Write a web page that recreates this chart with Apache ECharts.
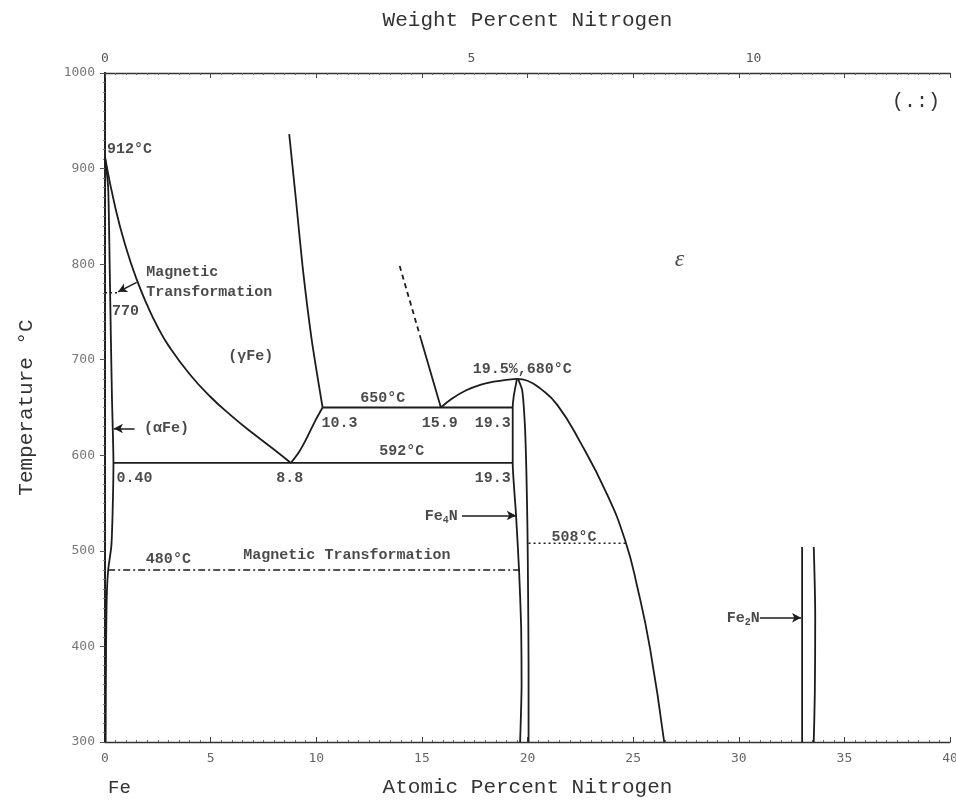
<!DOCTYPE html>
<html>
<head>
<meta charset="utf-8">
<script src="https://cdn.jsdelivr.net/npm/echarts@6/dist/echarts.min.js"></script>
<style>
html,body{margin:0;padding:0;background:#fff;}
#c{width:956px;height:803px;}
</style>
</head>
<body>
<div id="c"></div>
<script>
// ---------- data ----------
const xTickStep = 5;                 // atomic % N
const yTickStep = 100;               // °C
const weightTicks = [0, 5, 10];      // weight % N (top axis)

// alpha-Fe solvus
const alphaSolvus = [[0,912],[0.15,880],[0.22,800],[0.28,720],[0.33,660],[0.4,592],[0.36,540],[0.3,505],[0.15,480],[0.08,450],[0.05,400],[0.03,300]];
// (alpha+gamma)/gamma boundary
const gammaLower = [[0,912],[0.5,858],[1.0,817],[1.5,784],[2.0,757],[2.5,734],[3.0,715],[4.0,685],[5.0,661],[6.0,641],[7.0,623],[8.0,606],[8.8,592]];
// gamma / (gamma+gamma') boundary
const gammaGp = [[8.8,592],[9.2,604],[9.55,618],[9.95,636],[10.3,650]];
// gamma / (gamma+eps) boundary
const gammaUpper = [[10.3,650],[9.79,720],[9.36,796],[9.05,865],[8.72,936]];
// eutectoid horizontals
const iso592 = [[0.4,592],[19.3,592]];
const iso650 = [[10.3,650],[19.3,650]];
// (gamma+eps)/eps boundary
const epsDashed = [[13.95,798],[14.95,722]];
const epsSolid = [[14.95,722],[15.9,650]];
// eps dome
const epsDomeLeft = [[15.9,650],[16.4,659],[17.1,668],[17.8,674],[18.4,677],[19.0,679],[19.5,680]];
const epsRight = [[19.5,680],[20.0,678],[20.6,670],[21.4,653],[22.49,614],[23.75,560],[24.62,511],[25.2,462],[25.8,398],[26.47,300]];
// gamma' (Fe4N) field
const gpLeft = [[19.5,680],[19.35,662],[19.3,650],[19.3,592],[19.45,540],[19.6,480],[19.7,420],[19.72,360],[19.65,300]];
const gpRight = [[19.55,680],[19.75,668],[19.88,630],[19.95,580],[20.0,520],[20.03,450],[20.05,380],[20.05,300]];
// Fe2N
const fe2nLeft = [[33.0,504],[33.0,300]];
const fe2nRight = [[33.55,504],[33.62,430],[33.6,350],[33.55,300]];
// magnetic transformations
const mag770 = [[0,770],[0.65,770]];
const mag480 = [[0.15,480],[19.62,480]];
const mag508 = [[20.05,508],[24.62,508]];
// arrows [from, to]
const arrows = [
  [[1.5,781],[0.62,771]],
  [[1.4,628],[0.42,628]],
  [[16.9,537],[19.45,537]],
  [[31.0,430],[32.95,430]]
];
// annotations: text, x, y, horizontal align
const notes = [
  ['912°C', 0.1, 920, 'left'],
  ['Magnetic', 1.95, 792, 'left'],
  ['Transformation', 1.95, 771, 'left'],
  ['770', 0.33, 751, 'left'],
  ['(γFe)', 6.9, 704, 'center'],
  ['(αFe)', 1.85, 628, 'left'],
  ['0.40', 0.55, 576, 'left'],
  ['8.8', 8.75, 576, 'center'],
  ['592°C', 14.05, 604, 'center'],
  ['650°C', 13.15, 660, 'center'],
  ['10.3', 11.1, 634, 'center'],
  ['15.9', 15.85, 634, 'center'],
  ['19.3', 18.35, 634, 'center'],
  ['19.3', 18.35, 576, 'center'],
  ['19.5%,680°C', 19.75, 690, 'center'],
  ['Fe{s|4}N', 16.7, 536, 'right'],
  ['Fe{s|2}N', 31.0, 430, 'right'],
  ['480°C', 3.0, 491, 'center'],
  ['Magnetic Transformation', 11.45, 495, 'center'],
  ['508°C', 22.2, 514, 'center']
];
const epsLabel = ['ε', 27.2, 805];

// ---------- helpers ----------
const w2at = w => { const n = w/14.007, f = (100-w)/55.845; return 100*n/(n+f); };
const ink = '#1c1c1c';
const labelFont = '"Liberation Mono", "DejaVu Sans Mono", monospace';

function line(data, opts) {
  opts = opts || {};
  return {
    type: 'line', data: data, showSymbol: false, symbol: 'none',
    smooth: opts.smooth || false, clip: false, silent: true,
    lineStyle: { color: ink, width: opts.width || 1.8, type: opts.type || 'solid' },
    z: 3
  };
}

const series = [
  line(alphaSolvus, {smooth: 0.2}),
  line(gammaLower, {smooth: 0.5}),
  line(gammaGp, {smooth: 0.3}),
  line(gammaUpper, {smooth: 0.2}),
  line(iso592, {}),
  line(iso650, {}),
  line(epsDashed, {type: [5, 4]}),
  line(epsSolid, {}),
  line(epsDomeLeft, {smooth: 0.4}),
  line(epsRight, {smooth: 0.5}),
  line(gpLeft, {smooth: 0.2}),
  line(gpRight, {smooth: 0.2}),
  line(fe2nLeft, {}),
  line(fe2nRight, {smooth: 0.3}),
  line(mag770, {type: [2, 3], width: 1.4}),
  line(mag480, {type: [7, 3, 2, 3], width: 1.4}),
  line(mag508, {type: [2, 3], width: 1.4}),
  {
    type: 'line', data: [], silent: true,
    markLine: {
      silent: true, symbol: ['none', 'arrow'], symbolSize: [7, 9],
      label: {show: false},
      lineStyle: {color: ink, width: 1.5, type: 'solid'},
      data: arrows.map(a => [{coord: a[0]}, {coord: a[1]}])
    }
  },
  {
    type: 'scatter', symbolSize: 0, clip: false, silent: true, z: 5,
    data: notes.map(n => ({
      value: [n[1], n[2]],
      label: {
        show: true, position: 'inside', formatter: n[0],
        align: n[3], verticalAlign: 'middle',
        color: ink, fontFamily: labelFont, fontWeight: 'bold', fontSize: 15,
        rich: { s: { fontSize: 10, fontFamily: labelFont, fontWeight: 'bold', color: ink, padding: [9, 0, 0, 0] } }
      }
    }))
  },
  {
    type: 'scatter', symbolSize: 0, clip: false, silent: true, z: 5,
    data: [{
      value: [epsLabel[1], epsLabel[2]],
      label: { show: true, position: 'inside', formatter: epsLabel[0], color: ink,
        fontFamily: '"Liberation Serif", serif', fontStyle: 'italic', fontSize: 24 }
    }]
  }
];

const axisLineStyle = {color: '#333', width: 1.3};
const tickFont = '"DejaVu Sans Mono", monospace';
const chart = echarts.init(document.getElementById('c'), null, {renderer: 'canvas'});
chart.setOption({
  backgroundColor: '#ffffff',
  animation: false,
  grid: {left: 105, right: 6, top: 73, bottom: 61, containLabel: false, outerBoundsMode: 'none'},
  xAxis: [
    {
      type: 'value', min: 0, max: 40, interval: xTickStep, position: 'bottom',
      name: 'Atomic Percent Nitrogen', nameLocation: 'middle', nameGap: 35,
      nameTextStyle: {fontFamily: labelFont, fontSize: 21, color: '#333'},
      axisLine: {lineStyle: axisLineStyle},
      axisTick: {inside: true, length: 5, lineStyle: {color: '#444'}},
      minorTick: {show: true, splitNumber: 10, length: 2, lineStyle: {color: '#666'}},
      splitLine: {show: false},
      axisLabel: {margin: 10, fontFamily: tickFont, fontSize: 13, color: '#666', formatter: v => String(v)}
    },
    {
      type: 'value', min: 0, max: 40, interval: xTickStep, position: 'top',
      name: 'Weight Percent Nitrogen', nameLocation: 'middle', nameGap: 42,
      nameTextStyle: {fontFamily: labelFont, fontSize: 21, color: '#333'},
      axisLine: {lineStyle: axisLineStyle},
      axisTick: {inside: true, length: 5, lineStyle: {color: '#444'}},
      minorTick: {show: true, splitNumber: 10, length: 2, lineStyle: {color: '#666'}},
      splitLine: {show: false},
      axisLabel: {
        margin: 8, fontFamily: tickFont, fontSize: 13, color: '#555',
        customValues: weightTicks.map(w2at),
        formatter: v => {
          let best = weightTicks[0], d = 1e9;
          weightTicks.forEach(w => { const dd = Math.abs(w2at(w) - v); if (dd < d) { d = dd; best = w; } });
          return String(best);
        }
      }
    }
  ],
  yAxis: [
    {
      type: 'value', min: 300, max: 1000, interval: yTickStep, position: 'left',
      name: 'Temperature °C', nameLocation: 'middle', nameGap: 68, nameRotate: 90,
      nameTextStyle: {fontFamily: labelFont, fontSize: 21, color: '#333'},
      axisLine: {show: true, lineStyle: {color: '#222', width: 2}},
      axisTick: {show: true, inside: false, length: 4, lineStyle: {color: '#666'}},
      minorTick: {show: true, splitNumber: 10, length: 2, lineStyle: {color: '#777'}},
      splitLine: {show: false},
      axisLabel: {margin: 10, fontFamily: tickFont, fontSize: 13, color: '#777', formatter: v => String(v)}
    },
    {
      type: 'value', min: 300, max: 1000, interval: yTickStep, position: 'right',
      axisLine: {show: true, lineStyle: {color: '#222', width: 2}},
      axisTick: {show: true, inside: true, length: 5, lineStyle: {color: '#555'}},
      minorTick: {show: true, splitNumber: 10, length: 2, lineStyle: {color: '#777'}},
      splitLine: {show: false},
      axisLabel: {show: false}
    }
  ],
  graphic: [
    {type: 'text', left: 108, top: 778, style: {text: 'Fe', fontFamily: labelFont, fontSize: 19, fill: '#333'}},
    {type: 'text', left: 892, top: 92, style: {text: '(.:)', fontFamily: labelFont, fontSize: 20, fill: '#333'}}
  ],
  series: series
});
</script>
</body>
</html>
